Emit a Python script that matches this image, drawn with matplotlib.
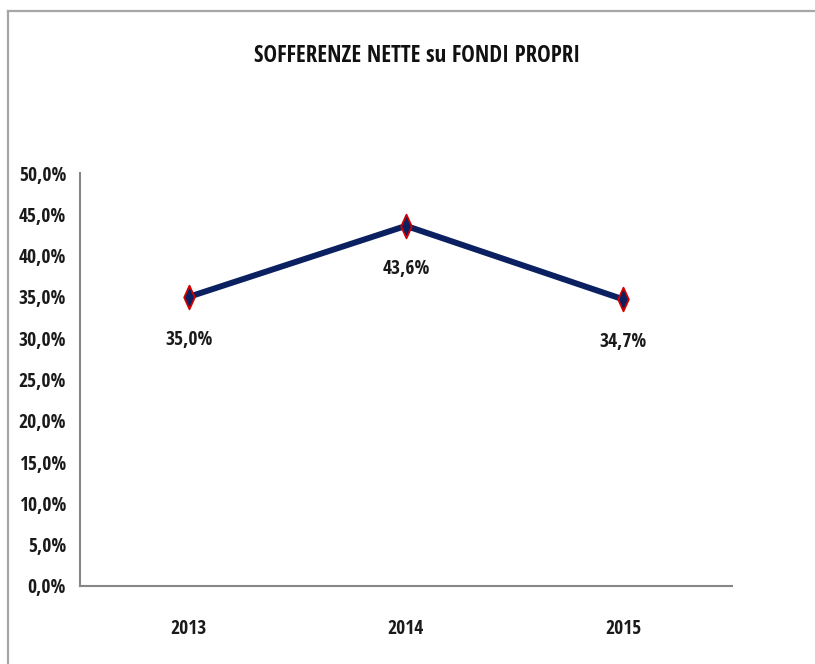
import matplotlib.pyplot as plt
from matplotlib.lines import Line2D
from matplotlib.path import Path
from matplotlib.ticker import FuncFormatter
import numpy as np

anni = ['2013', '2014', '2015']
valori = [35.0, 43.6, 34.7]
titolo = 'SOFFERENZE NETTE su FONDI PROPRI'

plt.rcParams['font.family'] = ['Open Sans Condensed', 'DejaVu Sans']
plt.rcParams['font.weight'] = 'bold'

fig = plt.figure(figsize=(8.15, 6.64), dpi=100)
ax = fig.add_axes([80/815, 1-586/664, 652/815, 413/664])

# cornice esterna (solo sinistra e alto visibili)
fig.add_artist(Line2D([8/815, 8/815], [0, 1-11/664], color='#a6a6a6', lw=1.6))
fig.add_artist(Line2D([8/815, 1], [1-11/664, 1-11/664], color='#a6a6a6', lw=1.6))

x = np.arange(len(anni))
rombo = Path([(-0.45, 0), (0, 1), (0.45, 0), (0, -1), (-0.45, 0)],
             [Path.MOVETO, Path.LINETO, Path.LINETO, Path.LINETO, Path.CLOSEPOLY])
ax.plot(x, valori, color='#0a2060', lw=4.3, marker=rombo, markersize=17,
        markerfacecolor='#0a2060', markeredgecolor='#d00000', markeredgewidth=1.3,
        zorder=3)

for xi, v in zip(x, valori):
    ax.annotate(f'{v:.1f}%'.replace('.', ','), (xi, v), xytext=(0, -31),
                textcoords='offset points', ha='center', va='center',
                fontsize=14, fontweight='bold', color='#1a1a1a')

ax.set_xlim(-0.5, 2.5)
ax.set_ylim(0, 50)
ax.set_yticks(np.arange(0, 51, 5))
ax.yaxis.set_major_formatter(FuncFormatter(lambda v, p: f'{v:.1f}%'.replace('.', ',')))
ax.set_xticks(x)
ax.set_xticklabels(anni)
ax.tick_params(axis='both', length=0, labelsize=14, colors='#1a1a1a')
ax.tick_params(axis='x', pad=24)
ax.tick_params(axis='y', pad=10)
for lab in ax.get_xticklabels() + ax.get_yticklabels():
    lab.set_fontweight('bold')

for s in ['top', 'right']:
    ax.spines[s].set_visible(False)
for s in ['left', 'bottom']:
    ax.spines[s].set_color('#868686')
    ax.spines[s].set_linewidth(1.5)

fig.text(417/815, 1-56/664, titolo, ha='center', va='center',
         fontsize=16.5, fontweight='bold', color='#111111')

fig.savefig('out.png', dpi=100)
